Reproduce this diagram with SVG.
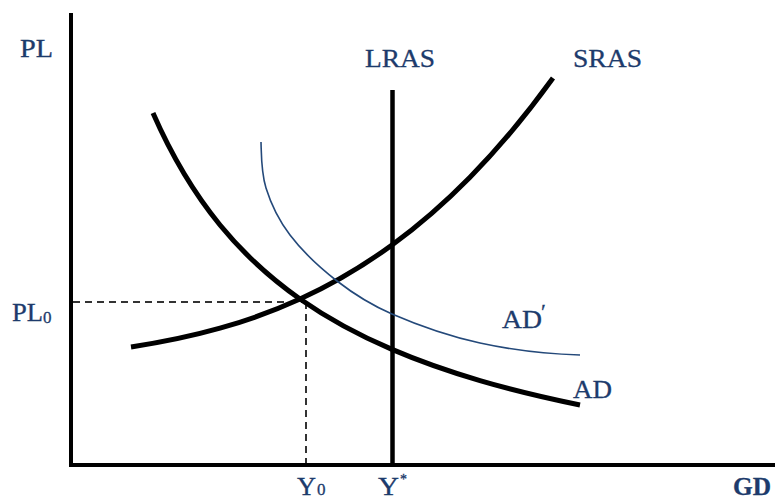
<svg xmlns="http://www.w3.org/2000/svg" width="775" height="499" viewBox="0 0 775 499">
<style>
.lbl{font-family:"Liberation Serif","Times New Roman",serif;font-size:25px;fill:#1d3b6c;stroke:#1d3b6c;stroke-width:0.3}
.sub{font-size:17px}
.axis{stroke:#000;stroke-width:4;fill:none}
.thick{stroke:#000;stroke-width:5;fill:none;stroke-linecap:butt}
.thin{stroke:#24497a;stroke-width:1.6;fill:none}
.dash{stroke:#333;stroke-width:2;stroke-dasharray:7 5;fill:none}
</style>
<rect width="775" height="499" fill="#fff"/>
<g id="axes">
<path class="axis" d="M71,13 V465 H775"/>
</g>
<g id="connectors">
<path class="dash" d="M73,302 H306"/>
<path class="dash" d="M306,302 V463"/>
</g>
<g id="lras">
<path class="thick" style="stroke-width:4.5" d="M392.5,90 V465"/>
<text class="lbl" x="365" y="67" textLength="70" lengthAdjust="spacingAndGlyphs">LRAS</text>
</g>
<g id="sras">
<path class="thick" d="M131,347 C160.67,342.47 190.33,336.55 220,328.19 C246.67,320.68 273.33,311.2 300,299 C330.67,284.97 361.33,267.36 392,245 C418,226.05 444,203.69 470,177.23 C497.67,149.07 525.33,116.28 553,78"/>
<text class="lbl" x="573" y="67" textLength="69" lengthAdjust="spacingAndGlyphs">SRAS</text>
</g>
<g id="ad">
<path class="thick" d="M153,113 C175.3,164 197.7,197.7 220,225 C246.7,257.6 273.3,280.3 300,299 C330.7,320.5 361.3,336.3 392,349.4 C421.3,362 450.7,372 480,380.6 C513.3,390.4 546.7,398.2 580,405"/>
<text class="lbl" x="573" y="398" textLength="39" lengthAdjust="spacingAndGlyphs">AD</text>
</g>
<g id="ad-prime">
<path class="thin" d="M261,142 C261.5,158 261.2,172.5 266,188 C270.8,203.5 278.2,219.5 290,235 C301.8,250.5 320,267.8 337,281 C354,294.2 368.2,303.7 392,314 C415.8,324.3 448.7,336.2 480,343 C511.3,349.8 547,354 580,355"/>
<text class="lbl" x="502" y="328"><tspan textLength="40" lengthAdjust="spacingAndGlyphs">AD</tspan><tspan font-size="22" dx="-1" dy="-9">′</tspan></text>
</g>
<g id="labels">
<text class="lbl" x="20" y="57" textLength="33" lengthAdjust="spacingAndGlyphs">PL</text>
<text class="lbl" x="12" y="321"><tspan textLength="31" lengthAdjust="spacingAndGlyphs">PL</tspan><tspan class="sub" dy="2">0</tspan></text>
<text class="lbl" x="297" y="495"><tspan textLength="19" lengthAdjust="spacingAndGlyphs">Y</tspan><tspan class="sub" dx="1">0</tspan></text>
<text class="lbl" x="378" y="495"><tspan textLength="21" lengthAdjust="spacingAndGlyphs">Y</tspan><tspan font-size="14" dx="1" dy="-11">*</tspan></text>
<text class="lbl" x="733" y="495" font-weight="bold" textLength="38" lengthAdjust="spacingAndGlyphs">GD</text>
</g>
</svg>
